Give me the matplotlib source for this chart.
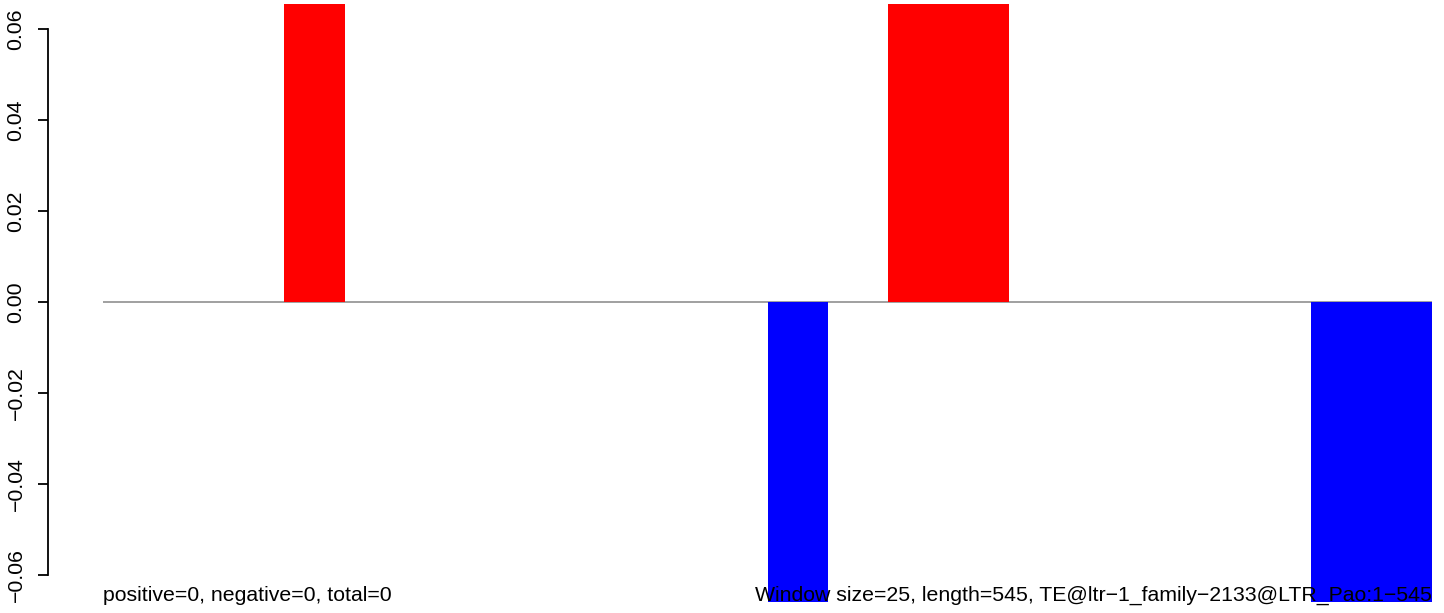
import matplotlib
matplotlib.use("Agg")
import matplotlib.pyplot as plt
import numpy as np

plt.rcParams['font.family'] = ['Liberation Sans', 'DejaVu Sans']

# 22 windows of size 25 over length 545; values beyond the visible range are clipped
window_values = [0, 0, 0, 0.08, 0, 0, 0, 0, 0, 0, 0, -0.08,
                 0, 0.08, 0.08, 0, 0, 0, 0, 0, -0.08, -0.08]
yticks = [-0.06, -0.04, -0.02, 0.00, 0.02, 0.04, 0.06]
ytick_labels = ["\u22120.06", "\u22120.04", "\u22120.02", "0.00", "0.02", "0.04", "0.06"]
left_text = "positive=0, negative=0, total=0"
right_text = "Window size=25, length=545, TE@ltr\u22121_family\u22122133@LTR_Pao:1\u2212545"

W, H = 1444, 613
fig = plt.figure(figsize=(W / 100, H / 100), dpi=100)
ax = fig.add_axes([103 / W, 1 - 602 / H, (1432 - 103) / W, (602 - 4) / H])

vals = np.array(window_values)
x = np.arange(len(vals))
colors = ['red' if v > 0 else 'blue' for v in vals]
ax.bar(x, vals, width=1.0, align='edge', color=colors, linewidth=0)
ax.axhline(0, color='#999999', lw=1.3, zorder=0.5)

ax.set_xlim(0, len(vals))
ax.set_ylim(-0.0659, 0.0655)

for s in ['top', 'right', 'bottom']:
    ax.spines[s].set_visible(False)
ax.spines['left'].set_position(('outward', 55 * 0.72))
ax.spines['left'].set_bounds(-0.06, 0.06)
ax.spines['left'].set_linewidth(1.3)
ax.set_xticks([])
ax.set_yticks(yticks)
ax.set_yticklabels(ytick_labels, rotation=90, va='center', fontsize=15.3)
ax.tick_params(axis='y', length=7.2, width=1.3, pad=9)

fig.text(103 / W, 1 - 601 / H, left_text, ha='left', va='baseline', fontsize=15.3)
fig.text(1432 / W, 1 - 601 / H, right_text, ha='right', va='baseline', fontsize=15.3)

fig.savefig('out.png', dpi=100)
